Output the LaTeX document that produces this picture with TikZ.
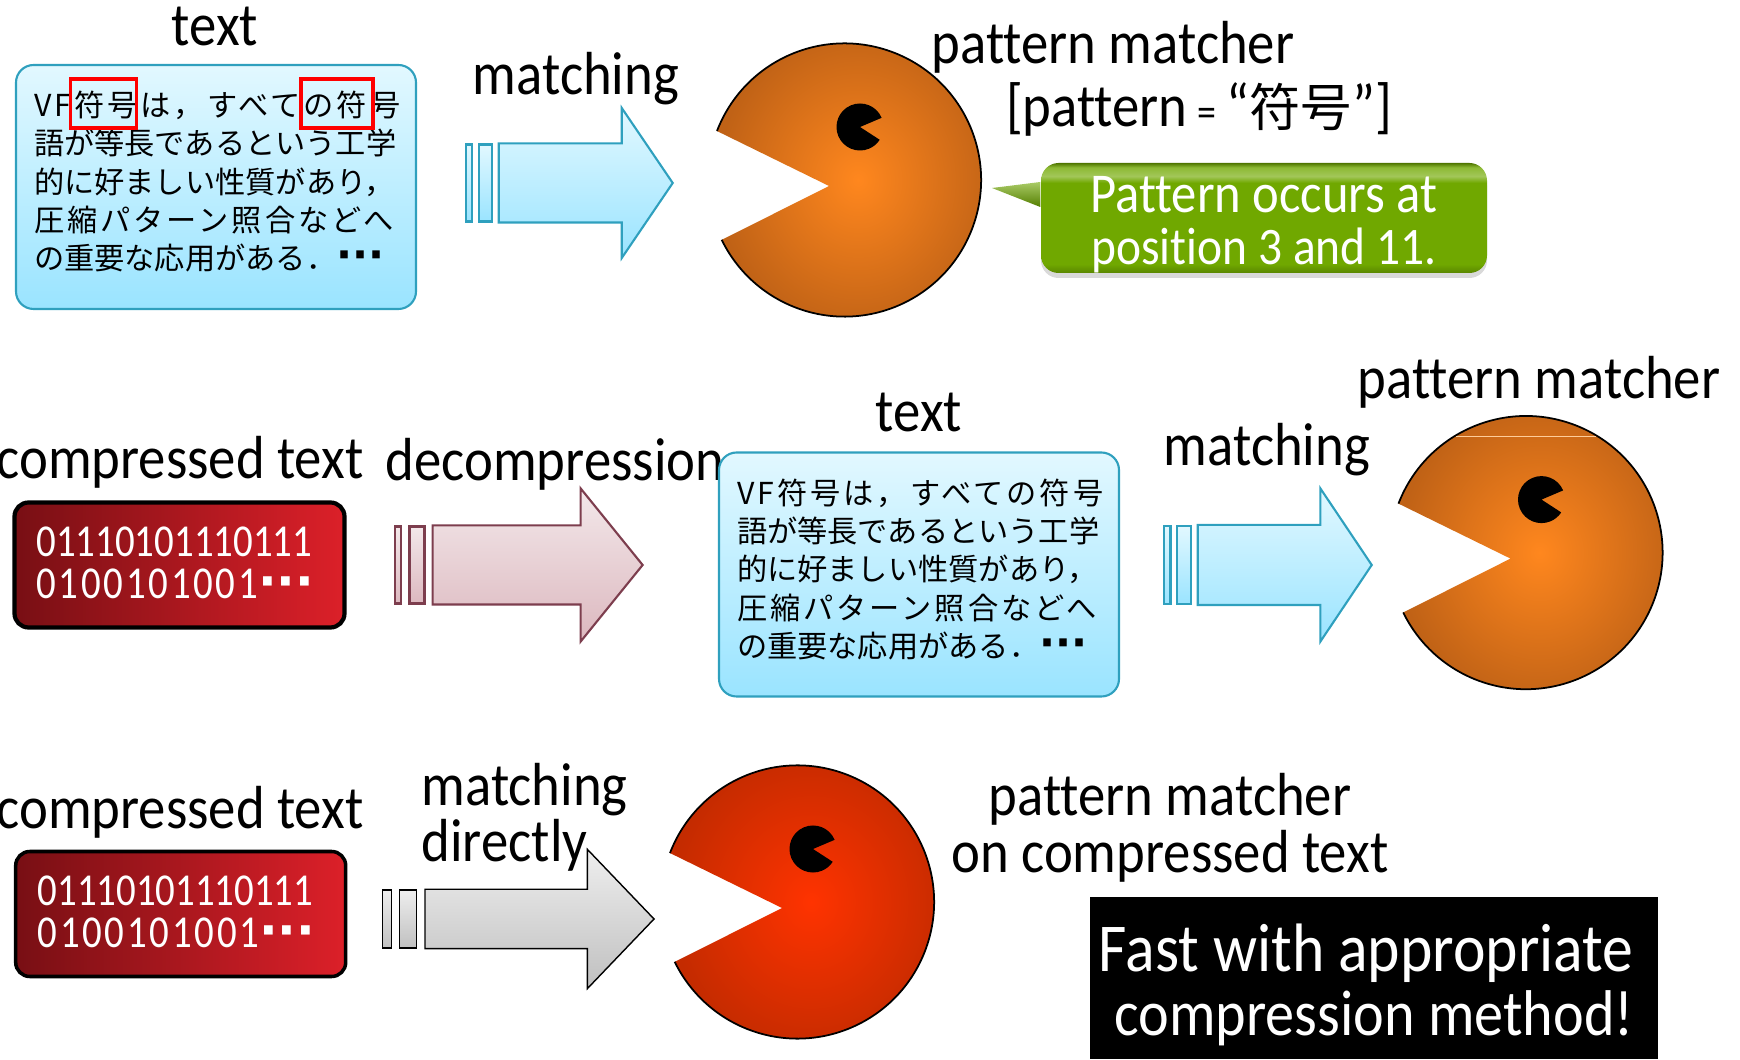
\documentclass[tikz,border=0pt]{standalone}
\usepackage{fontspec}
\usepackage{xcolor}
\usetikzlibrary{shapes.arrows, positioning, shadows}
\setmainfont[FakeStretch=0.9, Ligatures=NoCommon]{Carlito}
\newfontfamily\binfont[FakeStretch=0.85]{Carlito}
\newfontfamily\binwide[FakeStretch=0.85, LetterSpace=6]{Carlito}
\newfontfamily\jpfont{Noto Sans CJK JP}
\newfontfamily\jpwide[LetterSpace=10]{Noto Sans CJK JP}
\newfontfamily\dotfont{DejaVu Sans}
\definecolor{cBoxEdge}{RGB}{47,160,190}
\definecolor{cSkyTop}{RGB}{226,248,255}
\definecolor{cSkyBot}{RGB}{154,228,255}
\definecolor{cRoseEdge}{RGB}{125,62,78}
\definecolor{cRoseTop}{RGB}{243,232,234}
\definecolor{cRoseBot}{RGB}{220,184,191}
\definecolor{cGreyTop}{RGB}{238,238,238}
\definecolor{cGreyBot}{RGB}{192,192,192}
\definecolor{cBinLeft}{RGB}{120,15,20}
\definecolor{cBinRight}{RGB}{220,32,41}
\definecolor{cGrass}{RGB}{112,168,0}
\definecolor{cPacIn}{RGB}{255,135,30}
\definecolor{cPacOut}{RGB}{192,98,22}
\definecolor{cHotIn}{RGB}{255,51,0}
\definecolor{cHotOut}{RGB}{196,43,0}
\pgfdeclareverticalshading{grassbevel}{100bp}{
	color(0bp)=(cGrass!80!black); color(25bp)=(cGrass!80!black); color(29bp)=(cGrass);
	color(66bp)=(cGrass); color(69bp)=(cGrass!65!white); color(73bp)=(cGrass!80!white); color(75bp)=(cGrass!70!black); color(100bp)=(cGrass!70!black)}
\newcommand{\vftext}{\jpfont\fontsize{8.6}{10.9}\selectfont
	{\jpwide VF符号は，すべての符号}\\
	語が等長であるという工学\\
	的に好ましい性質があり，\\
	{\jpwide 圧縮パターン照合などへ}\\
	の重要な応用がある．{\dotfont\bfseries\fontsize{12}{12}\selectfont ···}\\[-8.3pt]\mbox{}}
\newcommand{\bintext}{{\binfont 01110101110111\\}{\binwide 0100101001}{\dotfont\bfseries\fontsize{14}{14}\selectfont ···}\rule[-1.3pt]{0pt}{0pt}}
\tikzset{
	lbl/.style      ={anchor=base, inner sep=0pt, yshift=-0.04cm, font=\fontsize{17.3}{20}\selectfont},
	textbox/.style  ={rectangle, rounded corners=5pt, draw=cBoxEdge, line width=0.6pt, top color=cSkyTop, bottom color=cSkyBot, minimum width=4cm, minimum height=2.44cm, text width=3.64cm, align=left, inner sep=0pt},
	hit/.style      ={rectangle, draw=red, line width=0.9pt, minimum height=0.49cm, inner sep=0pt},
	binbox/.style   ={rectangle, rounded corners=4pt, draw=black, line width=1.2pt, left color=cBinLeft, right color=cBinRight, minimum width=3.3cm, minimum height=1.25cm, text=white, align=left, text width=2.86cm, inner sep=0pt, font=\fontsize{13}{12.2}\selectfont},
	flow/.style     ={single arrow, inner xsep=0pt, inner ysep=0pt, shape border rotate=0, anchor=tip},
	stripe/.style   ={rectangle, inner sep=0pt},
	skyflow/.style  ={draw=cBoxEdge, line width=0.6pt, top color=cSkyTop, bottom color=cSkyBot},
	roseflow/.style ={draw=cRoseEdge, line width=0.6pt, top color=cRoseTop, bottom color=cRoseBot},
	greyflow/.style ={draw=black, line width=0.4pt, top color=cGreyTop, bottom color=cGreyBot},
	pics/pacman/.style n args={2}{code={
		\shade[inner color=#1, outer color=#2] (-0.155,-0.06) -- (159:1.366) arc[start angle=159, end angle=-154, radius=1.366] -- cycle;
		\draw[line width=0.5pt] (159:1.366) arc[start angle=159, end angle=-154, radius=1.366];
		\fill[black] (0.155,0.53) -- +(23:0.235) arc[start angle=23, end angle=327, radius=0.235] -- cycle;
	}},
}
\begin{document}
\begin{tikzpicture}
	\useasboundingbox (0,0) rectangle (17.4,10.59);
	% plain search
	\node[textbox] (src) at (2.16,8.72) {\vftext};
	\node[hit, minimum width=0.66cm] (hitA) at (1.035,9.555) {};
	\node[hit, minimum width=0.72cm] (hitB) at (3.37,9.555) {};
	\node[lbl] (srclbl) at (2.15,10.17) {text};
	\node[flow, skyflow, minimum height=1.74cm, minimum width=1.5cm, single arrow head extend=0.355cm, single arrow tip angle=111.6, inner ysep=0.385cm] (scan) at (6.74,8.76) {};
	\node[stripe, skyflow, minimum width=0.125cm, minimum height=0.77cm, left=0.05cm of scan.west] (scanB) {};
	\node[stripe, skyflow, minimum width=0.06cm, minimum height=0.77cm, left=0.05cm of scanB] (scanA) {};
	\node[lbl] (scanlbl) at (5.76,9.68) {matching};
	\pic at (8.445,8.79) {pacman={cPacIn}{cPacOut}};
	\node[lbl] (pmlbl) at (11.13,9.99) {pattern matcher};
	\node[lbl] (patlbl) at (11.99,9.36) {[pattern\,{\fontsize{12}{12}\selectfont =}\,“{\jpfont\fontsize{14.6}{14.6}\selectfont 符号}”]};
	\node[rectangle, rounded corners=5pt, shading=grassbevel, minimum width=4.46cm, minimum height=1.1cm, text=white, align=center, inner sep=0pt, font=\fontsize{16}{14.6}\selectfont, drop shadow={shadow xshift=0cm, shadow yshift=-0.05cm, opacity=0.3}] (res) at (12.64,8.41) {\rule{0pt}{14pt}Pattern occurs at\\{\fontsize{15}{14.6}\selectfont position 3 and 11.}};
	\coordinate (restip) at (9.92,8.71);
	\shade[top color=cGrass!60!white, bottom color=cGrass!75!black] (restip) -- ([yshift=0.36cm]res.west) -- ([yshift=0.11cm]res.west) -- cycle;
	% decompress then search
	\node[binbox] (binA) at (1.795,4.94) {\bintext};
	\node[lbl] (binAlbl) at (1.8,5.84) {compressed text};
	\node[flow, roseflow, minimum height=2.1cm, minimum width=1.52cm, single arrow head extend=0.37cm, single arrow tip angle=102, inner ysep=0.385cm] (dec) at (6.44,4.94) {};
	\node[stripe, roseflow, minimum width=0.15cm, minimum height=0.77cm, left=0.06cm of dec.west] (decB) {};
	\node[stripe, roseflow, minimum width=0.065cm, minimum height=0.77cm, left=0.06cm of decB] (decA) {};
	\node[lbl] (declbl) at (5.55,5.82) {decompression};
	\node[textbox] (txt) at (9.19,4.845) {\vftext};
	\node[lbl] (txtlbl) at (9.19,6.31) {text};
	\node[flow, skyflow, minimum height=1.74cm, minimum width=1.5cm, single arrow head extend=0.365cm, single arrow tip angle=112.3, inner ysep=0.39cm] (scanC) at (13.73,4.94) {};
	\node[stripe, skyflow, minimum width=0.14cm, minimum height=0.78cm, left=0.05cm of scanC.west] (scanCB) {};
	\node[stripe, skyflow, minimum width=0.065cm, minimum height=0.78cm, left=0.04cm of scanCB] (scanCA) {};
	\node[lbl] (scanClbl) at (12.67,5.97) {matching};
	\pic at (15.26,5.064) {pacman={cPacIn}{cPacOut}};
	\draw[orange!40!white, line width=0.2pt] (14.56,6.23) -- (15.96,6.23);
	\node[lbl] (pmClbl) at (15.39,6.64) {pattern matcher};
	% search on the compressed form
	\node[binbox, line width=1pt] (binB) at (1.807,1.45) {\bintext};
	\node[lbl] (binBlbl) at (1.8,2.34) {compressed text};
	\node[flow, greyflow, minimum height=2.29cm, minimum width=1.38cm, single arrow head extend=0.4cm, single arrow tip angle=92.5, inner ysep=0.29cm] (dir) at (6.55,1.4) {};
	\node[stripe, greyflow, minimum width=0.17cm, minimum height=0.58cm, left=0.07cm of dir.west] (dirB) {};
	\node[stripe, greyflow, minimum width=0.085cm, minimum height=0.58cm, left=0.07cm of dirB] (dirA) {};
	\node[lbl, align=left, anchor=north west, font=\fontsize{17.3}{15.9}\selectfont] (dirlbl) at (4.21,3.0) {matching\\directly};
	\pic at (7.975,1.57) {pacman={cHotIn}{cHotOut}};
	\node[lbl, align=center, anchor=center, font=\fontsize{17.3}{16.2}\selectfont] (pmDlbl) at (11.7,2.35) {pattern matcher\\on compressed text};
	\node[rectangle, fill=black, minimum width=5.68cm, minimum height=1.62cm, text=white, align=center, inner sep=0pt, font=\fontsize{19.5}{18.3}\selectfont] (fast) at (13.74,0.81) {\rule{0pt}{17.5pt}Fast with appropriate\hspace*{4.4pt}\\{\fontsize{18.4}{18.3}\selectfont compression method!}};
\end{tikzpicture}
\end{document}
